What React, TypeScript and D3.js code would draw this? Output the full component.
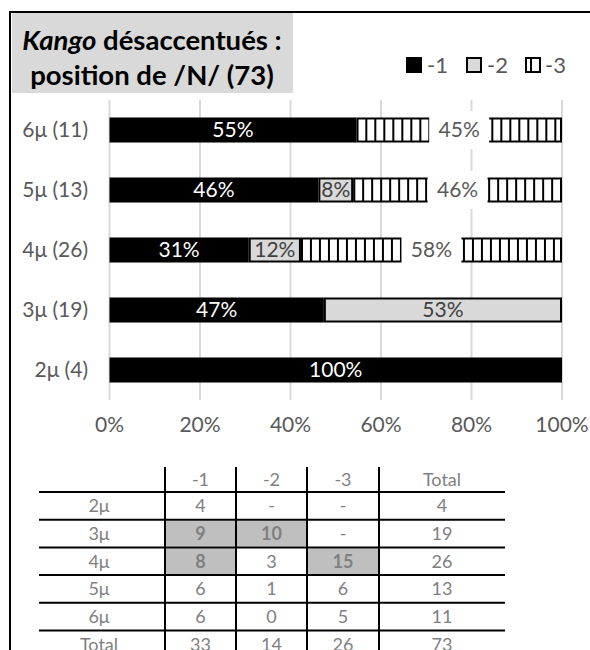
import React from 'react';
import * as d3 from 'd3';

// ---------- data ----------
const categories = ['6μ', '5μ', '4μ', '3μ', '2μ'];
const countsM1 = [6, 6, 8, 9, 4];
const countsM2 = [0, 1, 3, 10, 0];
const countsM3 = [5, 6, 15, 0, 0];
const seriesKeys = ['m1', 'm2', 'm3'];
const seriesNames = ['-1', '-2', '-3'];
const xTicks = [0, 0.2, 0.4, 0.6, 0.8, 1];

const tableHeader = ['', '-1', '-2', '-3', 'Total'];
const tableRowLabels = ['2μ', '3μ', '4μ', '5μ', '6μ', 'Total'];
const tableCol1 = ['4', '9', '8', '6', '6', '33'];
const tableCol2 = ['-', '10', '3', '1', '0', '14'];
const tableCol3 = ['-', '-', '15', '6', '5', '26'];
const tableTotal = ['4', '19', '26', '13', '11', '73'];
const highlightedCells: [number, number][] = [[1, 1], [1, 2], [2, 1], [2, 3]];

// ---------- styles ----------
const FONT = 'Lato, Carlito, Calibri, sans-serif';
const GRAY_TEXT = '#595959';
const TABLE_TEXT = '#808080';
const LIGHT = '#d9d9d9';

export default function App() {
  const W = 590;
  const H = 650;

  const rows = categories.map((c, i) => {
    const total = countsM1[i] + countsM2[i] + countsM3[i];
    return {
      cat: c,
      total,
      m1: countsM1[i] / total,
      m2: countsM2[i] / total,
      m3: countsM3[i] / total,
    };
  });

  const stack = d3.stack<any>().keys(seriesKeys);
  const series = stack(rows as any);

  const x = d3.scaleLinear().domain([0, 1]).range([109.5, 562]);
  const y = d3
    .scaleBand<string>()
    .domain(categories)
    .range([100, 400])
    .paddingInner(0.583)
    .paddingOuter(0.2915);
  const bw = y.bandwidth();
  const pct = d3.format('.0%');

  // table geometry
  const colX = [39, 165, 236, 307, 379, 505];
  const headerTop = 467;
  const firstLine = 492;
  const rowStep = 27.7;
  const tableCols = [tableRowLabels, tableCol1, tableCol2, tableCol3, tableTotal];
  const rowTop = (r: number) => firstLine + r * rowStep;

  const legendItems = [
    { x: 406, tx: 427 },
    { x: 466, tx: 487 },
    { x: 525, tx: 545 },
  ];

  return (
    <svg
      width={W}
      height={H}
      style={{ position: 'absolute', left: 0, top: 0, background: '#fff' }}
      fontFamily={FONT}
    >
      <defs>
        {rows.map((r, i) => {
          const seg = series[2][i];
          return (
            <pattern
              key={i}
              id={`stripe-${i}`}
              patternUnits="userSpaceOnUse"
              x={x(seg[0])}
              y={0}
              width={9}
              height={H}
            >
              <rect width={9} height={H} fill="#fff" />
              <rect x={0} width={2} height={H} fill="#000" />
            </pattern>
          );
        })}
      </defs>

      {/* outer frame */}
      <path d={`M10,${H} V12 H${W}`} fill="none" stroke="#000" strokeWidth={2} />

      {/* title */}
      <rect x={12} y={13} width={281} height={80} fill={LIGHT} />
      <text x={152} y={50} textAnchor="middle" fontSize={27.5} fontWeight="bold" fill="#000">
        <tspan fontStyle="italic">Kango</tspan>
        <tspan> désaccentués :</tspan>
      </text>
      <text x={152} y={85} textAnchor="middle" fontSize={27.5} fontWeight="bold" fill="#000">
        position de /N/ (73)
      </text>

      {/* legend */}
      {legendItems.map((l, i) => (
        <g key={i}>
          {i === 0 && <rect x={l.x} y={57} width={16} height={16} fill="#000" />}
          {i === 1 && (
            <rect x={l.x + 1} y={58} width={14} height={14} fill={LIGHT} stroke="#000" strokeWidth={2} />
          )}
          {i === 2 && (
            <g>
              <rect x={l.x + 1} y={58} width={14} height={14} fill="#fff" stroke="#000" strokeWidth={2} />
              <line x1={l.x + 6} x2={l.x + 6} y1={58} y2={72} stroke="#000" strokeWidth={2} />
            </g>
          )}
          <text x={l.tx} y={73} fontSize={22} fill={GRAY_TEXT}>
            {seriesNames[i]}
          </text>
        </g>
      ))}

      {/* gridlines */}
      {xTicks.map((t) => (
        <line key={t} x1={x(t)} x2={x(t)} y1={100} y2={400} stroke={LIGHT} strokeWidth={2} />
      ))}

      {/* category labels */}
      {rows.map((r) => (
        <text
          key={r.cat}
          x={88}
          y={(y(r.cat) as number) + bw / 2}
          dy="0.35em"
          textAnchor="end"
          fontSize={21}
          fill={GRAY_TEXT}
        >
          {`${r.cat} (${r.total})`}
        </text>
      ))}

      {/* bars */}
      {series.map((s, si) =>
        s.map((seg, i) => {
          const v = seg[1] - seg[0];
          if (v <= 0) return null;
          const x0 = x(seg[0]);
          const x1 = x(seg[1]);
          const y0 = y(rows[i].cat) as number;
          if (si === 0) {
            return <rect key={`${si}-${i}`} x={x0} y={y0} width={x1 - x0} height={bw} fill="#000" />;
          }
          if (si === 1) {
            return (
              <rect
                key={`${si}-${i}`}
                x={x0 + 1}
                y={y0 + 1}
                width={x1 - x0 - 2}
                height={bw - 2}
                fill={LIGHT}
                stroke="#000"
                strokeWidth={2}
              />
            );
          }
          return (
            <rect
              key={`${si}-${i}`}
              x={x0 + 1}
              y={y0 + 1}
              width={x1 - x0 - 2}
              height={bw - 2}
              fill={`url(#stripe-${i})`}
              stroke="#000"
              strokeWidth={2}
            />
          );
        })
      )}

      {/* data labels */}
      {series.map((s, si) =>
        s.map((seg, i) => {
          const v = seg[1] - seg[0];
          if (v <= 0) return null;
          const cx = (x(seg[0]) + x(seg[1])) / 2;
          const cy = (y(rows[i].cat) as number) + bw / 2;
          const color = si === 0 ? '#fff' : si === 1 ? '#404040' : GRAY_TEXT;
          return (
            <g key={`l-${si}-${i}`}>
              {si === 2 && <rect x={cx - 30} y={cy - 19} width={60} height={38} fill="#fff" />}
              <text x={cx} y={cy} dy="0.35em" textAnchor="middle" fontSize={21} fill={color}>
                {pct(v)}
              </text>
            </g>
          );
        })
      )}

      {/* x axis labels */}
      {xTicks.map((t) => (
        <text key={t} x={x(t)} y={432} textAnchor="middle" fontSize={21} fill={GRAY_TEXT}>
          {pct(t)}
        </text>
      ))}

      {/* table highlights */}
      {highlightedCells.map(([r, c]) => (
        <rect
          key={`h-${r}-${c}`}
          x={colX[c] + 1}
          y={rowTop(r) + 1}
          width={colX[c + 1] - colX[c] - 2}
          height={rowStep - 2}
          fill="#bfbfbf"
        />
      ))}

      {/* table header */}
      {tableHeader.map((h, c) => (
        <text
          key={`th-${c}`}
          x={(colX[c] + colX[c + 1]) / 2}
          y={(headerTop + firstLine) / 2}
          dy="0.35em"
          textAnchor="middle"
          fontSize={18}
          fill={TABLE_TEXT}
        >
          {h}
        </text>
      ))}

      {/* table body */}
      {tableCols.map((col, c) =>
        col.map((val, r) => {
          const bold = highlightedCells.some(([hr, hc]) => hr === r && hc === c);
          return (
            <text
              key={`td-${r}-${c}`}
              x={c === 0 ? 99 : (colX[c] + colX[c + 1]) / 2}
              y={rowTop(r) + rowStep / 2}
              dy="0.35em"
              textAnchor="middle"
              fontSize={18}
              fontWeight={bold ? 'bold' : 'normal'}
              fill={TABLE_TEXT}
            >
              {val}
            </text>
          );
        })
      )}

      {/* table lines */}
      {tableRowLabels.map((_, r) => (
        <line key={`hl-${r}`} x1={colX[0]} x2={colX[5]} y1={rowTop(r)} y2={rowTop(r)} stroke="#000" strokeWidth={2} />
      ))}
      {colX.slice(1, 5).map((cx) => (
        <line key={`vl-${cx}`} x1={cx} x2={cx} y1={headerTop} y2={H} stroke="#000" strokeWidth={2} />
      ))}
    </svg>
  );
}
